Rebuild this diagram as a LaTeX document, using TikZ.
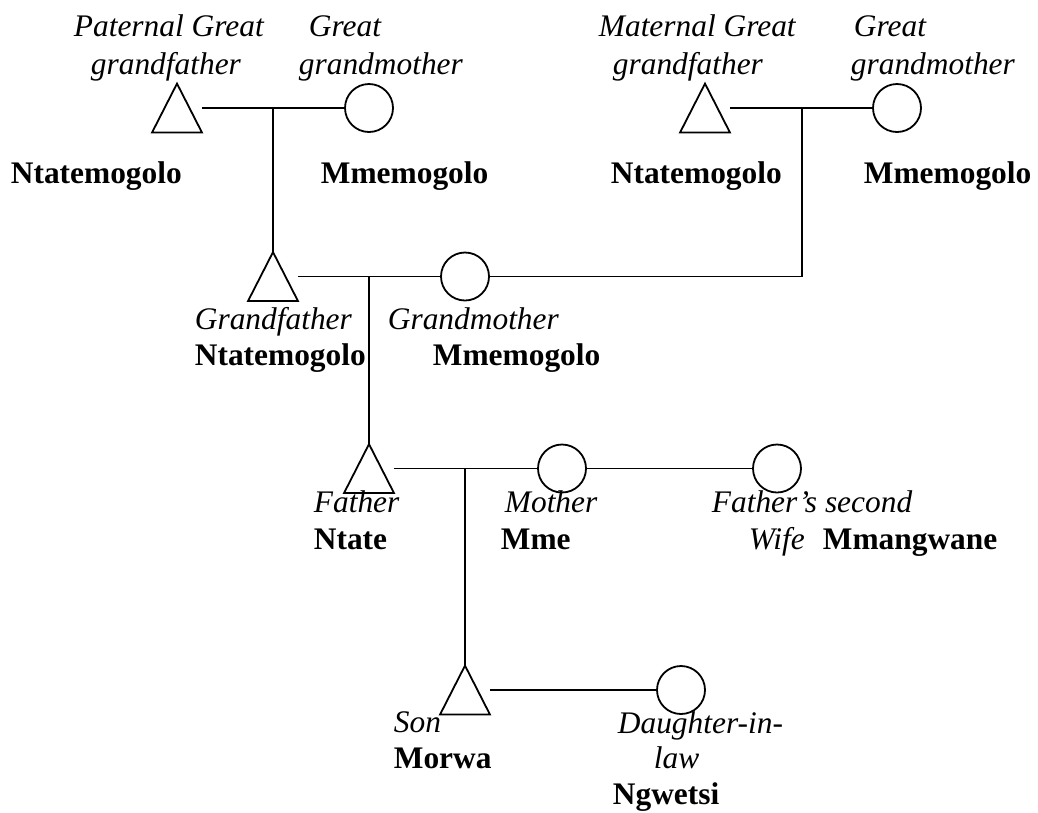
\documentclass[tikz,border=0pt]{standalone}
\usepackage{fontspec}
\setmainfont{Liberation Serif}
\begin{document}
\begin{tikzpicture}[x=1pt,y=-1pt,
  line width=1.8pt,
  it/.style={anchor=base west,inner sep=0pt,font=\fontsize{31.4pt}{37pt}\selectfont\itshape},
  bd/.style={anchor=base west,inner sep=0pt,font=\fontsize{31.4pt}{37pt}\selectfont\bfseries},
  male/.style={rectangle,minimum width=48pt,minimum height=47pt,inner sep=0pt},
  female/.style={circle,draw,minimum size=48pt,inner sep=0pt},
  tie/.style={line width=1.8pt}]
\useasboundingbox (0,0) rectangle (1038,812);
% people
\node[male] (pgf) at (177,108) {};
\node[female] (pgm) at (369,108) {};
\node[male] (mgf) at (705,108) {};
\node[female] (mgm) at (897,108) {};
\node[male] (gf) at (273,276.5) {};
\node[female] (gm) at (465,276.5) {};
\node[male] (fa) at (369,468.5) {};
\node[female] (mo) at (562,468.5) {};
\node[female] (sw) at (777,468.5) {};
\node[male] (son) at (465,690) {};
\node[female] (dil) at (681,690) {};
\foreach \t in {pgf,mgf,gf,fa,son}
  \draw[line join=miter] (\t.north) -- (\t.south east) -- (\t.south west) -- cycle;
% junction points
\coordinate (j1) at (273,108);
\coordinate (j2) at (802,108);
\coordinate (j2b) at (802,276.5);
\coordinate (j3) at (369,276.5);
\coordinate (j4) at (465,468.5);
% connectors
\draw[tie] (pgf.east) -- (pgm.west);
\draw[tie] (j1) -- (gf.north);
\draw[tie] (mgf.east) -- (mgm.west);
\draw[tie] (j2) -- (j2b) -- (gm.east);
\draw[tie] (gf.east) -- (gm.west);
\draw[tie] (j3) -- (fa.north);
\draw[tie] (fa.east) -- (mo.west);
\draw[tie] (mo.east) -- (sw.west);
\draw[tie] (j4) -- (son.north);
\draw[tie] (son.east) -- (dil.west);
% labels row 1
\node[it] (l1) at (73,36) {Paternal Great};
\node[it] (l2) at (90,74) {grandfather};
\node[it] (l3) at (308,36) {Great};
\node[it] (l4) at (298,74) {grandmother};
\node[it] (l5) at (598,36) {Maternal Great};
\node[it] (l6) at (612,74) {grandfather};
\node[it] (l7) at (853,36) {Great};
\node[it] (l8) at (850,74) {grandmother};
\node[bd] (b1) at (10,183) {Ntatemogolo};
\node[bd] (b2) at (320,183) {Mmemogolo};
\node[bd] (b3) at (610,183) {Ntatemogolo};
\node[bd] (b4) at (863,183) {Mmemogolo};
% labels row 2
\node[it] (l9) at (194,329) {Grandfather};
\node[bd] (b5) at (194,365) {Ntatemogolo};
\node[it] (l10) at (387,329) {Grandmother};
\node[bd] (b6) at (432,365) {Mmemogolo};
% labels row 3
\node[it] (l11) at (313,512) {Father};
\node[bd] (b7) at (313,549) {Ntate};
\node[it] (l12) at (504,512) {Mother};
\node[bd] (b8) at (500,549) {Mme};
\node[it] (l13) at (711,512) {Father’s second};
\node[it] (l14) at (748,549) {Wife};
\node[bd] (b9) at (822,549) {Mmangwane};
% labels row 4
\node[it] (l15) at (393,732) {Son};
\node[bd] (b10) at (393,768) {Morwa};
\node[it] (l16) at (617,733) {Daughter-in-};
\node[it] (l17) at (653,768) {law};
\node[bd] (b11) at (612,804) {Ngwetsi};
\end{tikzpicture}
\end{document}
